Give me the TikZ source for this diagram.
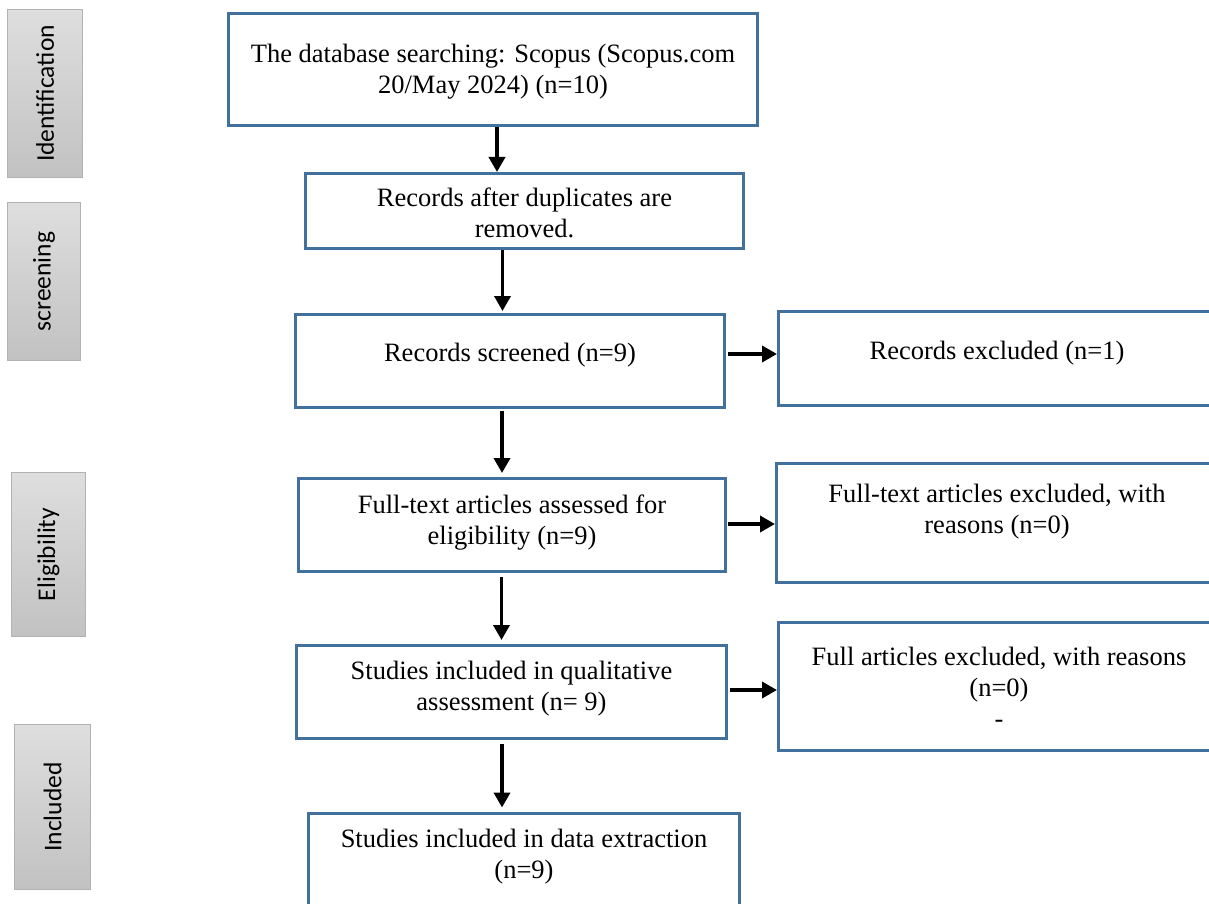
\documentclass[tikz,border=0pt]{standalone}
\usepackage{fontspec}
\setmainfont{Liberation Serif}
\newfontfamily\sidefont{Carlito}
\usetikzlibrary{arrows.meta}
\definecolor{boxblue}{RGB}{65,113,156}
\begin{document}
\begin{tikzpicture}[x=1pt,y=-1pt,
 box/.style={draw=boxblue, line width=3pt, inner sep=0pt, rectangle},
 txt/.style={font=\fontsize{26.5}{31}\selectfont, align=center, inner sep=0pt},
 side/.style={draw=black!30, line width=1pt, top color=black!13, bottom color=black!24, inner sep=0pt, font=\sidefont\fontsize{25.5}{30}\selectfont},
 arr/.style={line width=3.6pt, -{Triangle[length=15pt,width=16pt]}}]
\useasboundingbox (0,0) rectangle (1209,904);
\clip (0,0) rectangle (1209,904);

% side labels
\node[side, minimum width=75, minimum height=168] (s1) at (45,93.5) {\rotatebox{90}{Identification}};
\node[side, minimum width=73, minimum height=158] (s2) at (44,281.5) {\rotatebox{90}{screening}};
\node[side, minimum width=74, minimum height=164] (s3) at (48.5,554.5) {\rotatebox{90}{Eligibility}};
\node[side, minimum width=76, minimum height=165] (s4) at (52.5,807) {\rotatebox{90}{Included}};

% main boxes
\node[box, minimum width=529, minimum height=112] (b1) at (493,69.5) {};
\node[box, minimum width=438, minimum height=75] (b2) at (524.5,211) {};
\node[box, minimum width=429, minimum height=93] (b3) at (510,361) {};
\node[box, minimum width=427, minimum height=93] (b4) at (512,525) {};
\node[box, minimum width=430, minimum height=93] (b5) at (511.5,692) {};
\node[box, minimum width=431, minimum height=98] (b6) at (524,862) {};
\node[box, minimum width=438, minimum height=94] (r1) at (997.5,358.5) {};
\node[box, minimum width=440, minimum height=119] (r2) at (996.5,523) {};
\node[box, minimum width=440, minimum height=128] (r3) at (998.5,686.5) {};

% texts
\node[txt] (t1) at (493,72.3) {\strut The database searching: Scopus (Scopus.com\\\strut 20/May 2024) (n=10)};
\node[txt] (t2) at (524.5,216) {\strut Records after duplicates are\\\strut removed.};
\node[txt] (t3) at (510,355) {\strut Records screened (n=9)};
\node[txt] (tr1) at (997,353) {\strut Records excluded (n=1)};
\node[txt] (t4) at (512,523) {\strut Full-text articles assessed for\\\strut eligibility (n=9)};
\node[txt] (tr2) at (997,512) {\strut Full-text articles excluded, with\\\strut reasons (n=0)};
\node[txt] (t5) at (511.5,689) {\strut Studies included in qualitative\\\strut assessment (n= 9)};
\node[txt] (tr3) at (999,690) {\strut Full articles excluded, with reasons\\\strut (n=0)\\\strut -};
\node[txt] (t6) at (524,857) {\strut Studies included in data extraction\\\strut (n=9)};

% vertical arrows
\draw[arr] (b1.south -| 497,0) -- (b2.north -| 497,0);
\draw[arr, shorten >=2pt] (b2.south -| 502.5,0) -- (b3.north -| 502.5,0);
\draw[arr, shorten <=2pt, shorten >=4pt] (b3.south -| 502,0) -- (b4.north -| 502,0);
\draw[arr, shorten <=4pt, shorten >=4pt] (b4.south -| 501.5,0) -- (b5.north -| 501.5,0);
\draw[arr, shorten <=4pt, shorten >=4pt] (b5.south -| 502,0) -- (b6.north -| 502,0);

% horizontal arrows
\draw[arr, shorten <=2pt] (b3.east |- 0,354) -- (r1.west |- 0,354);
\draw[arr, shorten <=1pt] (b4.east |- 0,524) -- (r2.west |- 0,524);
\draw[arr, shorten <=2pt] (b5.east |- 0,690) -- (r3.west |- 0,690);
\end{tikzpicture}
\end{document}
